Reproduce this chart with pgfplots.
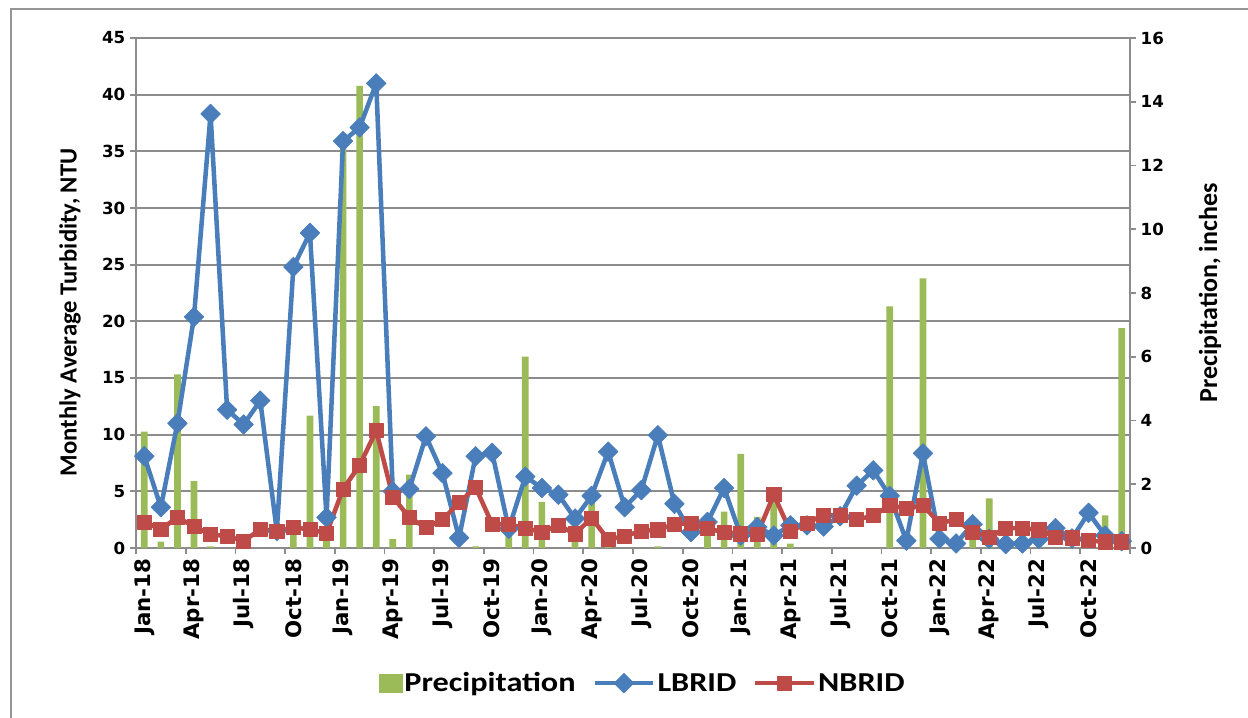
\documentclass[border=0pt]{standalone}
\usepackage{pgfplots}
\pgfplotsset{compat=1.18}
\usepackage{fontspec}
\setmainfont{Carlito}
\newfontfamily\tickfont{DejaVu Sans}
\newfontfamily\legfont[FakeStretch=1.18]{Carlito}

\definecolor{precip}{RGB}{155,187,89}
\definecolor{lbrid}{RGB}{74,126,187}
\definecolor{nbrid}{RGB}{190,75,72}
\definecolor{gridgray}{RGB}{140,140,140}
\definecolor{framegray}{RGB}{150,150,150}

\pgfplotsset{
  base/.style={
    scale only axis, width=745.5pt, height=382.5pt,
    xmin=-0.5, xmax=59.5, at={(0,0)}, anchor=south west,
    /pgf/number format/assume math mode=true,
  },
  yticklab/.style={font=\tickfont\bfseries\fontsize{12.5}{12.5}\selectfont},
  xticklab/.style={font=\tickfont\bfseries\fontsize{16}{16}\selectfont},
}

\begin{document}
\begin{tikzpicture}
\path[use as bounding box] (-102pt,-126.75pt) rectangle (834pt,411pt);
\draw[framegray, line width=0.9pt] (-93.75pt,-130pt) -- (-93.75pt,404.25pt) -- (840pt,404.25pt);

% left axis: grid, ticks, month labels
\begin{axis}[base,
  ymin=0, ymax=45, ytick={0,5,...,45},
  axis y line*=left, axis x line*=bottom,
  ymajorgrids, grid style={gridgray, line width=1.3pt},
  axis line style={gridgray, line width=1.3pt, -},
  tick align=outside, major tick length=4.5pt, minor tick length=4.5pt,
  ytick style={gridgray, line width=1.3pt},
  major x tick style={draw=none},
  minor x tick style={gridgray, line width=1.3pt},
  xtick={0,3,...,57},
  minor xtick={-0.5,2.5,...,59.5},
  xticklabels={Jan-18,Apr-18,Jul-18,Oct-18,Jan-19,Apr-19,Jul-19,Oct-19,Jan-20,Apr-20,Jul-20,Oct-20,Jan-21,Apr-21,Jul-21,Oct-21,Jan-22,Apr-22,Jul-22,Oct-22},
  x tick label style={xticklab, rotate=90, anchor=east},
  y tick label style={yticklab},
  ylabel={\textbf{Monthly Average Turbidity, NTU}},
  ylabel style={font=\bfseries\fontsize{18.5}{18.5}\selectfont, at={(axis description cs:-0.0664,0.462)}, anchor=center},
]
\addplot[draw=none, forget plot] coordinates {(0,0)};
\end{axis}

% right axis: monthly precipitation bars
\begin{axis}[base,
  ymin=0, ymax=16, ytick={0,2,...,16},
  axis y line*=right, axis x line=none,
  axis line style={gridgray, line width=1.3pt, -},
  tick align=outside, major tick length=4.5pt,
  ytick style={gridgray, line width=1.3pt},
  y tick label style={yticklab},
  ylabel={\textbf{Precipitation, inches}},
  ylabel style={font=\bfseries\fontsize{19.5}{19.5}\selectfont, at={(axis description cs:1.0805,0.5)}, anchor=center, rotate=0},
  ybar, bar width=5pt,
]
\addplot[fill=precip, draw=none] coordinates {
(0,3.65) (1,0.2) (2,5.45) (3,2.1) (4,0.05) (5,0) (6,0) (7,0) (8,0) (9,0.8)
(10,4.15) (11,0.5) (12,12.6) (13,14.5) (14,4.45) (15,0.28) (16,2.3) (17,0) (18,0) (19,0)
(20,0.05) (21,0) (22,0.6) (23,6.0) (24,1.45) (25,0) (26,0.25) (27,1.43) (28,0.5) (29,0)
(30,0) (31,0.05) (32,0) (33,0) (34,0.65) (35,1.14) (36,2.95) (37,0.98) (38,1.5) (39,0.14)
(40,0) (41,0) (42,0) (43,0) (44,0) (45,7.58) (46,0) (47,8.46) (48,0) (49,0)
(50,0.3) (51,1.56) (52,0) (53,0) (54,0) (55,0) (56,0) (57,0) (58,1.02) (59,6.9)
};
\end{axis}

% turbidity lines on the left scale
\begin{axis}[base,
  ymin=0, ymax=45, hide axis,
  legend columns=-1,
  legend style={at={(0.51,-0.265)}, anchor=center, draw=none, fill=none,
    font=\legfont\bfseries\fontsize{20.5}{20.5}\selectfont,
    /tikz/every even column/.append style={column sep=11pt},
    nodes={inner sep=1.5pt}},
  legend image code/.code={\draw[#1, mark repeat=2, mark phase=2] plot coordinates {(0pt,0pt) (22pt,0pt) (44pt,0pt)};},
]
\addlegendimage{legend image code/.code={\fill[precip] (0pt,-6.75pt) rectangle (17pt,6.75pt);}}
\addlegendentry{Precipitation}
\addplot[lbrid, line width=3.4pt, line join=round, mark=square*, mark size=5.2pt,
  mark options={rotate=45, solid, fill=lbrid, draw=lbrid, line width=0.5pt}] coordinates {
(0,8.1) (1,3.6) (2,11.0) (3,20.4) (4,38.3) (5,12.2) (6,10.9) (7,13.0) (8,1.5) (9,24.8)
(10,27.8) (11,2.7) (12,35.9) (13,37.1) (14,41.0) (15,5.0) (16,5.2) (17,9.85) (18,6.6) (19,0.9)
(20,8.1) (21,8.4) (22,1.7) (23,6.3) (24,5.3) (25,4.7) (26,2.6) (27,4.6) (28,8.5) (29,3.6)
(30,5.1) (31,9.95) (32,3.9) (33,1.4) (34,2.3) (35,5.3) (36,1.1) (37,1.85) (38,1.1) (39,2.0)
(40,2.0) (41,1.9) (42,2.8) (43,5.5) (44,6.85) (45,4.6) (46,0.65) (47,8.35) (48,0.8) (49,0.4)
(50,2.1) (51,0.8) (52,0.35) (53,0.4) (54,0.8) (55,1.75) (56,0.85) (57,3.1) (58,1.1) (59,0.6)
};
\addlegendentry{LBRID}
\addplot[nbrid, line width=3.4pt, line join=round, mark=square*, mark size=5.3pt,
  mark options={solid, fill=nbrid, draw=nbrid, line width=0.5pt}] coordinates {
(0,2.3) (1,1.65) (2,2.7) (3,1.9) (4,1.2) (5,1.05) (6,0.6) (7,1.65) (8,1.5) (9,1.8)
(10,1.65) (11,1.3) (12,5.2) (13,7.3) (14,10.35) (15,4.5) (16,2.7) (17,1.8) (18,2.5) (19,4.0)
(20,5.35) (21,2.1) (22,2.1) (23,1.75) (24,1.4) (25,2.0) (26,1.25) (27,2.65) (28,0.75) (29,1.05)
(30,1.5) (31,1.6) (32,2.1) (33,2.2) (34,1.7) (35,1.4) (36,1.25) (37,1.2) (38,4.7) (39,1.45)
(40,2.2) (41,2.9) (42,2.9) (43,2.5) (44,2.85) (45,3.75) (46,3.5) (47,3.75) (48,2.2) (49,2.5)
(50,1.4) (51,0.95) (52,1.75) (53,1.75) (54,1.6) (55,0.95) (56,0.9) (57,0.65) (58,0.55) (59,0.55)
};
\addlegendentry{NBRID}
\end{axis}
\end{tikzpicture}
\end{document}
